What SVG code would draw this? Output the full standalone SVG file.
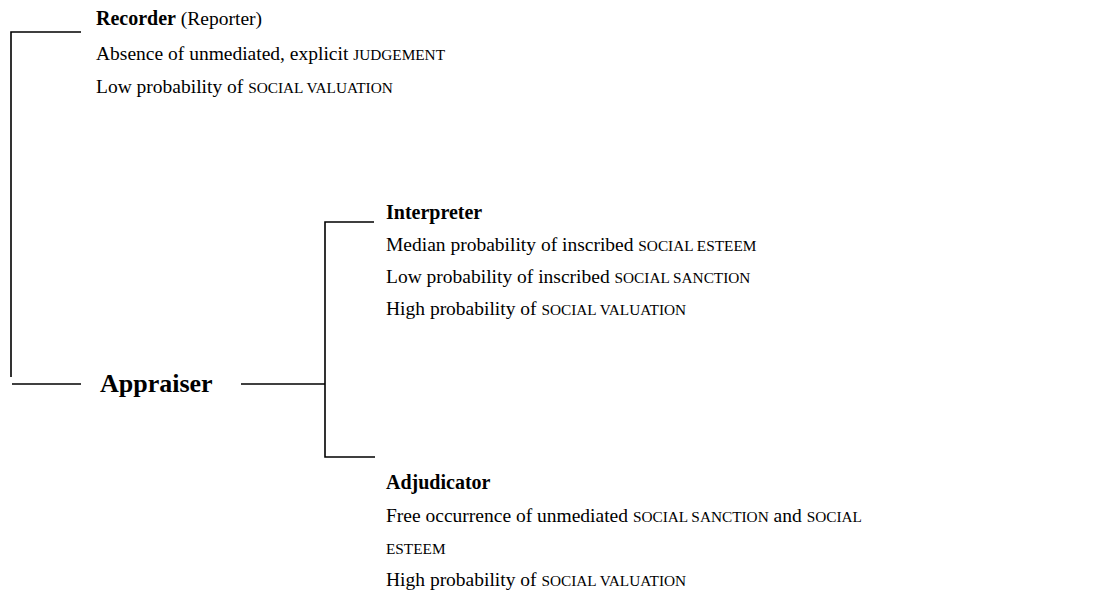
<svg xmlns="http://www.w3.org/2000/svg" width="1107" height="600" viewBox="0 0 1107 600">
<style>
text{font-family:"Liberation Serif","DejaVu Serif",serif;font-size:19.5px;fill:#000}
.b{font-weight:bold;font-size:20px}
.big{font-size:26px}
.sc{font-size:15.3px}
.ln{stroke:#000;stroke-width:1.6;fill:none}
</style>
<rect width="1107" height="600" fill="#fff"/>
<g id="connectors">
<path class="ln" d="M81,32 H11 V377"/>
<path class="ln" d="M12,384 H81"/>
<path class="ln" d="M241,384 H325"/>
<path class="ln" d="M374,222 H325 V457 H375"/>
</g>
<g id="recorder">
<text x="96" y="25"><tspan class="b">Recorder</tspan> (Reporter)</text>
<text x="96" y="60">Absence of unmediated, explicit <tspan class="sc">JUDGEMENT</tspan></text>
<text x="96" y="93">Low probability of <tspan class="sc">SOCIAL VALUATION</tspan></text>
</g>
<g id="appraiser">
<text x="100" y="392" class="b big">Appraiser</text>
</g>
<g id="interpreter">
<text x="386" y="219" class="b">Interpreter</text>
<text x="386" y="251">Median probability of inscribed <tspan class="sc">SOCIAL ESTEEM</tspan></text>
<text x="386" y="283">Low probability of inscribed <tspan class="sc">SOCIAL SANCTION</tspan></text>
<text x="386" y="315">High probability of <tspan class="sc">SOCIAL VALUATION</tspan></text>
</g>
<g id="adjudicator">
<text x="386" y="489" class="b">Adjudicator</text>
<text x="386" y="522">Free occurrence of unmediated <tspan class="sc">SOCIAL SANCTION</tspan> and <tspan class="sc">SOCIAL</tspan></text>
<text x="386" y="554"><tspan class="sc">ESTEEM</tspan></text>
<text x="386" y="586">High probability of <tspan class="sc">SOCIAL VALUATION</tspan></text>
</g>
</svg>
